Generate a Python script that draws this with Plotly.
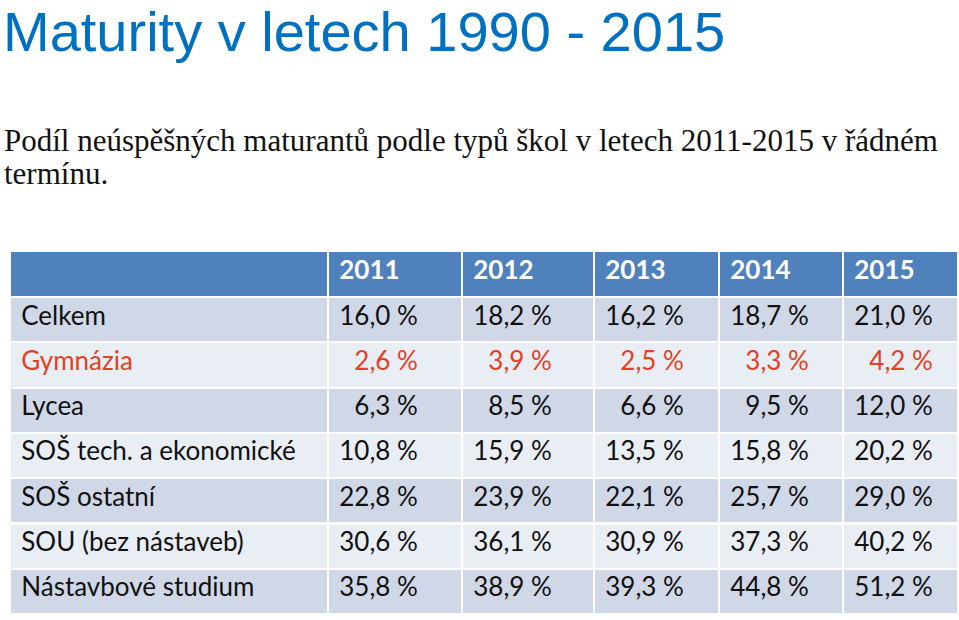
import plotly.graph_objects as go

# ---- data ----
years = ["2011", "2012", "2013", "2014", "2015"]
school_types = ["Celkem", "Gymnázia", "Lycea", "SOŠ tech. a ekonomické",
                "SOŠ ostatní", "SOU (bez nástaveb)", "Nástavbové studium"]
v2011 = [16.0, 2.6, 6.3, 10.8, 22.8, 30.6, 35.8]
v2012 = [18.2, 3.9, 8.5, 15.9, 23.9, 36.1, 38.9]
v2013 = [16.2, 2.5, 6.6, 13.5, 22.1, 30.9, 39.3]
v2014 = [18.7, 3.3, 9.5, 15.8, 25.7, 37.3, 44.8]
v2015 = [21.0, 4.2, 12.0, 20.2, 29.0, 40.2, 51.2]

title_text = "Maturity v letech 1990 - 2015"
subtitle_line1 = "Podíl neúspěšných maturantů podle typů škol v letech 2011-2015 v řádném"
subtitle_line2 = "termínu."

# ---- styling ----
HEADER_BLUE = "#4F81BD"
ROW_DARK = "#D0D8E8"
ROW_LIGHT = "#E9EDF4"
RED = "#E2401E"
PAD = "\u2009"
FIG = "\u2007"


def fmt(v):
    s = f"{v:.1f}".replace(".", ",") + " %"
    if v < 10:
        s = FIG + s
    return PAD + s


series = [v2011, v2012, v2013, v2014, v2015]
n = len(school_types)
row_fill = [ROW_DARK if i % 2 == 0 else ROW_LIGHT for i in range(n)]
row_font = [RED if t == "Gymnázia" else "#111111" for t in school_types]

cell_values = [[PAD + t for t in school_types]] + [[fmt(v) for v in s] for s in series]

fig = go.Figure()
fig.add_trace(go.Table(
    domain=dict(x=[10 / 959, 958 / 959], y=[0, 1 - 251 / 620]),
    columnwidth=[318, 134, 132, 125, 124, 115],
    header=dict(
        values=[""] + [PAD + y for y in years],
        fill_color=HEADER_BLUE,
        line=dict(color="white", width=2),
        align="left",
        height=46,
        font=dict(family="Lato", size=26, color="white", weight="bold"),
    ),
    cells=dict(
        values=cell_values,
        fill_color=[row_fill] * 6,
        line=dict(color="white", width=2),
        align="left",
        height=45.3,
        font=dict(family="Lato", size=26, color=[row_font] * 6),
    ),
))

fig.add_annotation(
    text=title_text, xref="paper", yref="paper", x=0.0, y=1.0,
    xanchor="left", yanchor="top", showarrow=False, xshift=1, yshift=2,
    font=dict(family="Liberation Sans", size=56, color="#0070C0"),
)
fig.add_annotation(
    text=subtitle_line1, xref="paper", yref="paper", x=0.0, y=1 - 121 / 620,
    xanchor="left", yanchor="top", showarrow=False, align="left", xshift=2,
    font=dict(family="Liberation Serif", size=31, color="#111111"),
)
fig.add_annotation(
    text=subtitle_line2, xref="paper", yref="paper", x=0.0, y=1 - 154 / 620,
    xanchor="left", yanchor="top", showarrow=False, align="left", xshift=2,
    font=dict(family="Liberation Serif", size=31, color="#111111"),
)

fig.update_layout(
    width=959, height=620,
    margin=dict(l=0, r=0, t=0, b=0),
    paper_bgcolor="white", plot_bgcolor="white",
)

fig.write_html("out.html", config={"displayModeBar": False},
               post_script="document.body.style.margin='0';")
